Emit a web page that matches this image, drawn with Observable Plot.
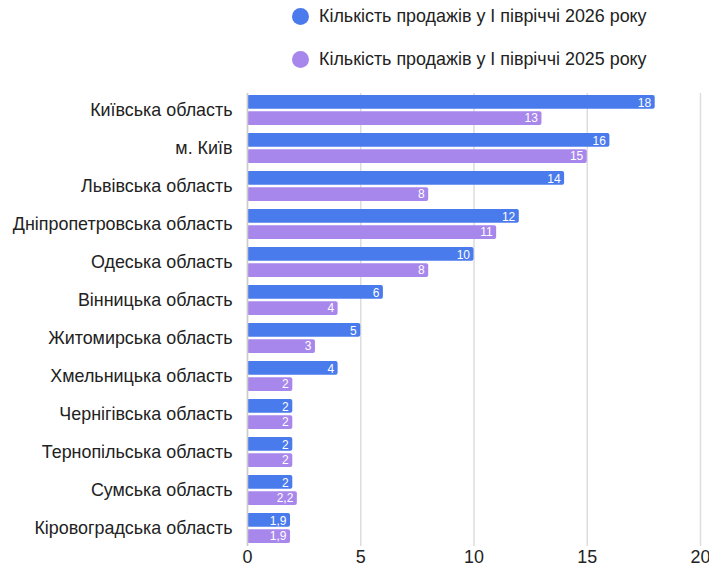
<!DOCTYPE html>
<html>
<head>
<meta charset="utf-8">
<script src="https://cdn.jsdelivr.net/npm/d3@7"></script>
<script src="https://cdn.jsdelivr.net/npm/@observablehq/plot@0.6"></script>
<style>
  html, body { margin: 0; padding: 0; background: #fff; }
  body { width: 709px; height: 573px; position: relative; overflow: hidden; font-family: "Liberation Sans", Arial, sans-serif; }
  .legend { position: absolute; left: 0; top: 0; width: 709px; height: 80px; }
  .item { position: absolute; left: 292px; display: flex; align-items: center; font-size: 17.9px; color: #222; }
  .dot { width: 17px; height: 17px; border-radius: 50%; margin-right: 10px; }
  #chart { position: absolute; left: 0; top: 80px; }
</style>
</head>
<body>
<div class="legend" id="legend"></div>
<div id="chart"></div>
<script>
const regions = [
  "Київська область",
  "м. Київ",
  "Львівська область",
  "Дніпропетровська область",
  "Одеська область",
  "Вінницька область",
  "Житомирська область",
  "Хмельницька область",
  "Чернігівська область",
  "Тернопільська область",
  "Сумська область",
  "Кіровоградська область"
];
const sales2026 = [18, 16, 14, 12, 10, 6, 5, 4, 2, 2, 2, 1.9];
const sales2025 = [13, 15, 8, 11, 8, 4, 3, 2, 2, 2, 2.2, 1.9];
const seriesNames = ["Кількість продажів у І півріччі 2026 року", "Кількість продажів у І півріччі 2025 року"];
const seriesColors = ["#4a7bec", "#a887ec"];
const xTicks = [0, 5, 10, 15, 20];

const legend = document.getElementById("legend");
seriesNames.forEach((name, i) => {
  const div = document.createElement("div");
  div.className = "item";
  div.style.top = (i === 0 ? 6 : 49) + "px";
  div.innerHTML = `<span class="dot" style="background:${seriesColors[i]}"></span><span>${name}</span>`;
  legend.appendChild(div);
});

const d26 = regions.map((r, i) => ({region: r, value: sales2026[i]}));
const d25 = regions.map((r, i) => ({region: r, value: sales2025[i]}));
const fmt = v => String(v).replace(".", ",");
const half = 16.2;

const chart = Plot.plot({
  width: 709,
  height: 493,
  marginTop: 13,
  marginBottom: 27,
  marginLeft: 247,
  marginRight: 9,
  style: {fontFamily: "Liberation Sans, Arial, sans-serif", fontSize: "17.9px", color: "#222", background: "transparent"},
  x: {domain: [0, 20], ticks: xTicks, label: null, tickSize: 0, tickPadding: 4},
  y: {domain: regions, paddingInner: 0.2, paddingOuter: 0, label: null, tickSize: 0, tickPadding: 15},
  marks: [
    Plot.gridX(xTicks, {stroke: "#ddd", strokeOpacity: 1, strokeWidth: 1.5}),
    Plot.barX(d26, {y: "region", x: "value", fill: seriesColors[0], insetBottom: half, rx: 2}),
    Plot.barX(d25, {y: "region", x: "value", fill: seriesColors[1], insetTop: half, rx: 2}),
    Plot.ruleX([0], {stroke: "#ccc", strokeWidth: 1.5}),
    Plot.text(d26, {y: "region", x: "value", text: d => fmt(d.value), dy: -7.8, dx: -4, textAnchor: "end", fill: "white", fontSize: 12}),
    Plot.text(d25, {y: "region", x: "value", text: d => fmt(d.value), dy: 7.8, dx: -4, textAnchor: "end", fill: "white", fontSize: 12})
  ]
});
chart.style.overflow = "visible";
document.getElementById("chart").appendChild(chart);
</script>
</body>
</html>
